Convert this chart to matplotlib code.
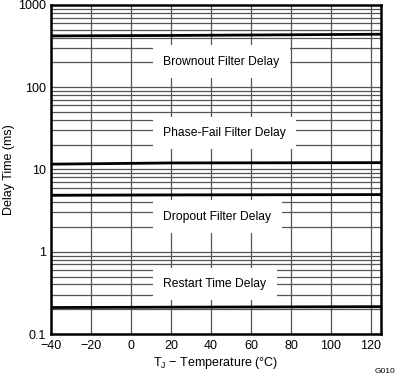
import numpy as np
import matplotlib.pyplot as plt
from matplotlib.ticker import LogLocator, FixedLocator, NullFormatter

plt.rcParams["font.family"] = ["Liberation Sans", "DejaVu Sans"]

temp = [-40, 20, 125]
brownout = [420, 425, 440]
phase_fail = [11.6, 12.0, 12.1]
dropout = [4.85, 4.9, 4.95]
restart = [0.21, 0.212, 0.215]

labels = ["Brownout Filter Delay", "Phase-Fail Filter Delay",
          "Dropout Filter Delay", "Restart Time Delay"]
label_y = [205, 27.8, 2.67, 0.405]

fig = plt.figure(figsize=(3.96, 3.77), dpi=100)
ax = fig.add_axes([0.129, 0.114, 0.833, 0.873])

for series in [brownout, phase_fail, dropout, restart]:
    ax.plot(temp, series, color="black", linewidth=2.0, zorder=3)

ax.set_yscale("log")
ax.set_ylim(0.1, 1000)
ax.set_xlim(-40, 125)
ax.xaxis.set_major_locator(FixedLocator(np.arange(-40, 121, 20)))
ax.yaxis.set_minor_locator(LogLocator(base=10, subs=np.arange(2, 10), numticks=10))
ax.yaxis.set_minor_formatter(NullFormatter())
ax.set_yticks([0.1, 1, 10, 100, 1000])
ax.set_yticklabels(["0.1", "1", "10", "100", "1000"])

ax.grid(True, which="major", color="#555555", linewidth=0.9)
ax.grid(True, which="minor", axis="y", color="#555555", linewidth=0.9)
ax.tick_params(which="both", length=0, labelsize=9, pad=3)
ax.tick_params(axis="x", pad=4.5)
ax.tick_params(axis="y", pad=3.5)

for s in ax.spines.values():
    s.set_linewidth(1.8)

# labels sit left-aligned on white boxes that hide the grid
for txt, yv in zip(labels, label_y):
    ax.text(16, yv, txt, ha="left", va="center", fontsize=8.7, zorder=4,
            bbox=dict(facecolor="white", edgecolor="none", pad=7.5))

ax.set_xlabel(r"T$_\mathregular{J}$ − Temperature (°C)", fontsize=9, labelpad=2)
ax.set_ylabel("Delay Time (ms)", fontsize=9, labelpad=2)

fig.text(0.998, 0.005, "G010", fontsize=6, ha="right", va="bottom")

plt.savefig("out.png", dpi=100)
plt.close()
